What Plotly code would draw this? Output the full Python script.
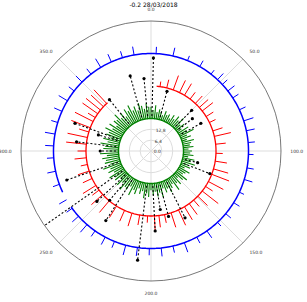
import numpy as np
import plotly.graph_objects as go

# ---------------- data ----------------
title_text = "-0.2 28/03/2018"
ang_tickvals = [0, 45, 90, 135, 180, 225, 270, 315]
ang_ticktext = ["0.0", "50.0", "100.0", "150.0", "200.0", "250.0", "300.0", "350.0"]
rad_tickvals = [0.0, 6.4, 12.8]
rad_ticktext = ["0.0", "6.4", "12.8"]
r_max = 76.8

green_base = 19.2
red_base = 38.4
blue_base = 57.6

green_theta = [0, 3, 6, 9, 12, 15, 18, 21, 24, 27, 30, 33, 36, 39, 42, 45, 48, 51, 54, 57,
               60, 63, 66, 69, 72, 75, 78, 81, 84, 87, 90, 93, 96, 99, 102, 105, 108, 111, 114, 117,
               120, 123, 126, 129, 132, 135, 138, 141, 144, 147, 150, 153, 156, 159, 162, 165, 168, 171, 174, 177,
               180, 183, 186, 189, 192, 195, 198, 201, 204, 207, 210, 213, 216, 219, 222, 225, 228, 231, 234, 237,
               240, 243, 246, 249, 252, 255, 258, 261, 264, 267, 270, 273, 276, 279, 282, 285, 288, 291, 294, 297,
               300, 303, 306, 309, 312, 315, 318, 321, 324, 327, 330, 333, 336, 339, 342, 345, 348, 351, 354, 357]
green_len = [7, 5, 8, 4, 6, 5, 3, 6, 4, 5, 3, 6, 4, 7, 5, 8, 4, 6, 3, 7,
             5, 9, 4, 6, 3, 7, 5, 4, 6, 3, 5, 4, 6, 3, 7, 5, 8, 4, 6, 3,
             7, 5, 4, 8, 6, 3, 7, 5, 9, 4, 6, 8, 5, 7, 4, 9, 6, 8, 5, 7,
             4, 8, 6, 9, 5, 7, 4, 8, 6, 10, 5, 8, 7, 10, 6, 9, 5, 8, 7, 10,
             6, 9, 7, 11, 6, 9, 8, 10, 7, 11, 6, 9, 8, 11, 7, 10, 6, 9, 8, 11,
             7, 10, 6, 9, 8, 11, 7, 9, 6, 10, 8, 11, 7, 9, 6, 10, 8, 6, 9, 7]

red_arc = [5, 318]
red_theta = [8, 14, 20, 26, 31, 37, 43, 48, 52, 58, 64, 72, 77, 84, 92, 99, 106, 111, 118, 123,
             128, 134, 139, 144, 149, 155, 162, 168, 173, 177, 183, 190, 197, 204, 212, 220, 228, 233, 238, 245,
             252, 258, 264, 270, 276, 282, 287, 291, 297, 301, 305, 309, 313, 317]
red_len = [3, 5, 9, 8, 8, 5, 6, 7, 8, 5, 4, 6, 10, 6, 4, 7, 9, 11, 10, 5,
           12, 8, 5, 8, 9, 10, 9, 5, 7, 9, 4, 6, 8, 7, 8, 9, 9, 5, 9, 6,
           7, 4, 7, 5, 12, 12, 6, 12, 12, 5, 11, 11, 10, 11]

blue_arcs = [[0, 235], [245, 360]]
blue_theta = [3, 13, 22, 30, 38, 43, 47, 52, 57, 65, 72, 78, 85, 92, 100, 107, 115, 122, 130, 137,
              145, 152, 160, 167, 174, 181, 188, 195, 202, 208, 215, 221, 228, 234, 240, 250, 258, 266, 273, 280,
              287, 294, 301, 308, 315, 322, 329, 336, 343, 350]
blue_len = [4, 5, 3, 4, 3, 5, 4, 5, 4, 4, 6, 5, 4, 3, 4, 5, 3, 4, 4, 3,
            5, 4, 6, 4, 5, 4, 5, 6, 4, 5, 4, 6, 5, 4, 5, 4, 5, 4, 5, 6,
            4, 5, 6, 4, 5, 4, 6, 5, 4, 5]

dash_theta = [1.5, 344.5, 354.5, 15, 45, 61, 52, 104, 111, 153, 165, 171, 177, 187,
              213, 220, 227, 235, 251, 277, 290, 287, 270, 321]
dash_end = [55, 46, 43, 36.5, 34, 33.7, 31, 28.4, 37.2, 44.3, 40, 35, 47.3, 65,
            49, 38, 43.7, 80, 52.6, 44.3, 47.8, 32.5, 30, 39]

# ---------------- figure ----------------
fig = go.Figure()


def spikes(thetas, lens, base):
    rr, tt = [], []
    for t, l in zip(thetas, lens):
        rr += [base, base + l, None]
        tt += [t, t, None]
    return rr, tt


def arc(a0, a1, base):
    tt = list(np.arange(a0, a1 + 0.01, 1.0))
    return [base] * len(tt), tt


# green
r, t = spikes(green_theta, green_len, green_base)
fig.add_trace(go.Scatterpolar(r=r, theta=t, mode="lines", line=dict(color="#008000", width=1.1), hoverinfo="skip"))
r, t = arc(0, 360, green_base)
fig.add_trace(go.Scatterpolar(r=r, theta=t, mode="lines", line=dict(color="#008000", width=1.4), hoverinfo="skip"))

# red
r, t = spikes(red_theta, red_len, red_base)
fig.add_trace(go.Scatterpolar(r=r, theta=t, mode="lines", line=dict(color="#ff0000", width=1.0), hoverinfo="skip"))
r, t = arc(red_arc[0], red_arc[1], red_base)
fig.add_trace(go.Scatterpolar(r=r, theta=t, mode="lines", line=dict(color="#ff0000", width=1.3), hoverinfo="skip"))

# blue
r, t = spikes(blue_theta, blue_len, blue_base)
fig.add_trace(go.Scatterpolar(r=r, theta=t, mode="lines", line=dict(color="#0000ff", width=1.0), hoverinfo="skip"))
for a0, a1 in blue_arcs:
    r, t = arc(a0, a1, blue_base)
    fig.add_trace(go.Scatterpolar(r=r, theta=t, mode="lines", line=dict(color="#0000ff", width=1.5), hoverinfo="skip"))

# black dashed
rr, tt = [], []
for th, e in zip(dash_theta, dash_end):
    rr += [green_base + 1.5, e, None]
    tt += [th, th, None]
fig.add_trace(go.Scatterpolar(r=rr, theta=tt, mode="lines",
                              line=dict(color="black", width=1.1, dash="2px,2px"), hoverinfo="skip"))
fig.add_trace(go.Scatterpolar(r=dash_end, theta=dash_theta, mode="markers",
                              marker=dict(color="black", size=3.2), hoverinfo="skip"))

fig.update_layout(
    width=307, height=302,
    margin=dict(l=0, r=0, t=0, b=0),
    paper_bgcolor="white",
    showlegend=False,
    title=dict(text=title_text, x=0.5, xanchor="center", y=1 - 4.5 / 302, yanchor="middle",
               font=dict(family="DejaVu Sans", size=6, color="black")),
    polar=dict(
        domain=dict(x=[21 / 307, 281 / 307], y=[21 / 302, 281 / 302]),
        bgcolor="white",
        angularaxis=dict(direction="clockwise", rotation=90,
                         tickmode="array", tickvals=ang_tickvals, ticktext=ang_ticktext,
                         tickfont=dict(family="DejaVu Sans", size=4.5, color="#333333"),
                         showline=True, linecolor="#555555", linewidth=0.8,
                         showgrid=True, gridcolor="#dddddd", gridwidth=0.6,
                         ticks="outside", ticklen=8, tickcolor="rgba(0,0,0,0)"),
        radialaxis=dict(range=[0, r_max], tickmode="array", tickvals=rad_tickvals, ticktext=rad_ticktext,
                        tickfont=dict(family="DejaVu Sans", size=4.5, color="#333333"),
                        showline=False, showgrid=True, gridcolor="#dddddd", gridwidth=0.6,
                        ticks="", angle=85, tickangle=85, side="clockwise"),
    ),
)

fig.write_html("out.html")
